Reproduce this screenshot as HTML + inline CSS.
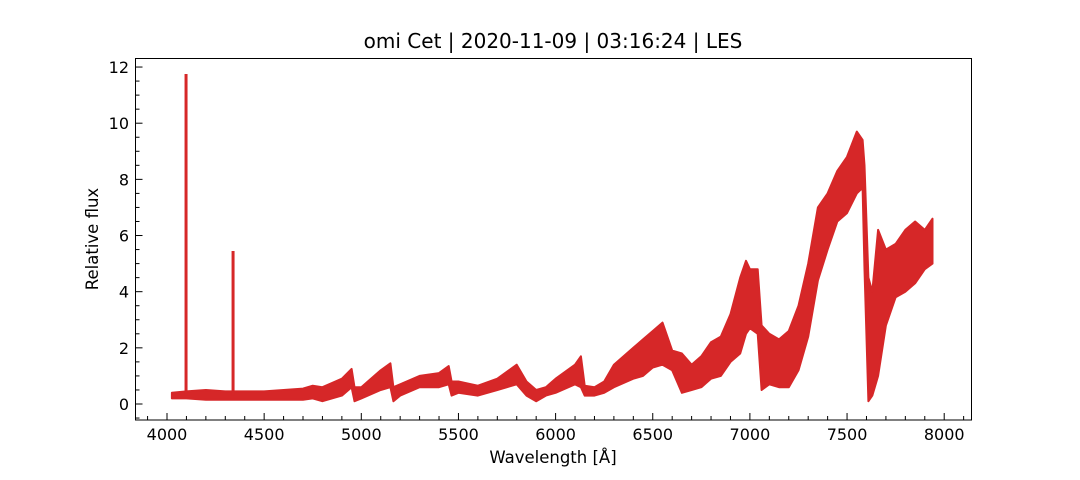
<!DOCTYPE html>
<html><head><meta charset="utf-8"><style>
body{margin:0;background:#fff;}
svg{display:block;font-family:"DejaVu Sans","Liberation Sans",sans-serif;}
</style></head><body>
<svg id="chart" width="1080" height="480" viewBox="0 0 1080 480">
<text x="553" y="48" text-anchor="middle" font-size="20">omi Cet | 2020-11-09 | 03:16:24 | LES</text>
<g id="marks"></g>
<g id="axes"></g>
<rect x="135.5" y="58.5" width="836" height="361.5" fill="none" stroke="#000" stroke-width="1"/>
<text x="553" y="463" text-anchor="middle" font-size="16.5">Wavelength [Å]</text>
<text transform="translate(98,239) rotate(-90)" text-anchor="middle" font-size="16.5">Relative flux</text>
</svg>
<script>
const wavelengths=[4025,4100,4200,4300,4400,4500,4600,4700,4750,4800,4900,4950,4965,5000,5100,5150,5165,5200,5300,5400,5450,5465,5500,5600,5700,5800,5850,5900,5950,6000,6100,6130,6150,6200,6250,6300,6400,6450,6500,6550,6600,6650,6700,6750,6800,6850,6900,6950,6980,7000,7040,7060,7100,7150,7200,7250,7300,7350,7400,7450,7500,7550,7580,7590,7610,7630,7660,7700,7750,7800,7850,7900,7940];
const fluxHigh=[0.4,0.45,0.5,0.45,0.45,0.45,0.5,0.55,0.65,0.6,0.9,1.25,0.6,0.6,1.2,1.45,0.6,0.7,1.0,1.1,1.35,0.8,0.8,0.65,0.9,1.4,0.8,0.5,0.6,0.9,1.4,1.7,0.65,0.6,0.8,1.4,2.0,2.3,2.6,2.9,1.9,1.8,1.4,1.7,2.2,2.4,3.2,4.5,5.1,4.8,4.8,2.8,2.5,2.3,2.6,3.5,5.0,7.0,7.5,8.3,8.8,9.7,9.4,8.5,4.5,4.0,6.2,5.5,5.7,6.2,6.5,6.2,6.6];
const fluxLow=[0.2,0.2,0.15,0.15,0.15,0.15,0.15,0.15,0.2,0.1,0.3,0.6,0.1,0.2,0.5,0.6,0.1,0.3,0.6,0.6,0.7,0.3,0.4,0.3,0.5,0.7,0.3,0.1,0.3,0.4,0.7,0.6,0.3,0.3,0.4,0.6,0.9,1.0,1.3,1.4,1.2,0.4,0.5,0.6,0.9,1.0,1.5,1.8,2.5,2.7,2.5,0.5,0.7,0.6,0.6,1.2,2.4,4.4,5.5,6.5,6.8,7.5,7.7,4.8,0.1,0.3,1.0,2.8,3.8,4.0,4.3,4.8,5.0];
const spikeWavelengths=[4098,4340];
const spikePeaks=[11.75,5.45];
const xTicks=[4000,4500,5000,5500,6000,6500,7000,7500,8000];
const yTicks=[0,2,4,6,8,10,12];
const NS="http://www.w3.org/2000/svg";
const X=w=>167+(w-4000)*0.19430;
const Y=v=>404-v*28.08;
const marks=document.getElementById('marks'),axes=document.getElementById('axes');
function mk(tag,attrs,parent){const e=document.createElementNS(NS,tag);for(const k in attrs)e.setAttribute(k,attrs[k]);parent.appendChild(e);return e;}
let pts=[];
for(let i=0;i<wavelengths.length;i++)pts.push(X(wavelengths[i]).toFixed(1)+','+Y(fluxHigh[i]).toFixed(1));
for(let i=wavelengths.length-1;i>=0;i--)pts.push(X(wavelengths[i]).toFixed(1)+','+Y(fluxLow[i]).toFixed(1));
const band=mk('polygon',{points:pts.join(' '),fill:'#d62728',stroke:'#d62728','stroke-width':2,'stroke-linejoin':'round'},marks);


for(let i=0;i<spikeWavelengths.length;i++){
  const s=mk('line',{x1:X(spikeWavelengths[i]),x2:X(spikeWavelengths[i]),y1:Y(0.3),y2:Y(spikePeaks[i]),stroke:'#d62728','stroke-width':3},marks);
  
  
}
for(let w=3900;w<=8100;w+=100){const x=X(w);if(x<136||x>971)continue;const major=w%500===0;
  mk('line',{x1:x,x2:x,y1:420,y2:major?413:416,stroke:'#000','stroke-width':1},axes);}
xTicks.forEach(w=>{const t=mk('text',{x:X(w),y:440,'text-anchor':'middle','font-size':16},axes);t.textContent=w;
  
  });
for(let v=-0.5;v<=12.5;v+=0.5){const y=Y(v);if(y<59||y>419)continue;const major=Math.abs(v%2)<1e-9;
  mk('line',{x1:135.5,x2:major?142.5:139.5,y1:y,y2:y,stroke:'#000','stroke-width':1},axes);}
yTicks.forEach(v=>{const t=mk('text',{x:129,y:Y(v)+6,'text-anchor':'end','font-size':16},axes);t.textContent=v;
  
  });
</script>
</body></html>
